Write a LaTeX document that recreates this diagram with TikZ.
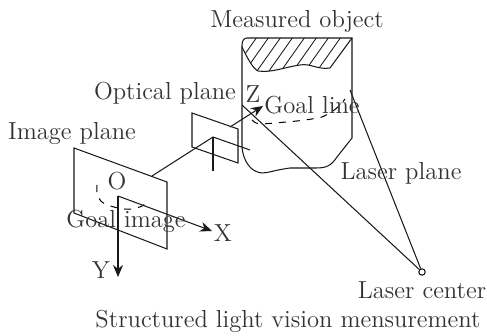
\documentclass[tikz,border=0pt]{standalone}
\usetikzlibrary{arrows.meta}
\begin{document}
\begin{tikzpicture}[x=0.5pt,y=-0.5pt,
  ln/.style={line width=0.52pt,black!90},
  thin ln/.style={line width=0.42pt,black!90},
  dsh/.style={line width=0.5pt,dash pattern=on 3.5pt off 3.5pt},
  arr/.style={ln,-{Stealth[length=6pt,width=5pt]}},
  lab/.style={inner sep=0pt,font=\fontsize{12.3}{14}\selectfont,text=black!80}]
\useasboundingbox (0,0) rectangle (487,336);
% measured object
\draw[ln] (247,38) -- (352,38) -- (352,138) -- (337,157)
  .. controls (331,166) and (326,168) .. (316,168)
  -- (290,168) .. controls (275,170) and (268,173) .. (262,173)
  .. controls (250,172) and (243,160) .. (242,147)
  -- (242,45) .. controls (242,41) and (244,38) .. (247,38) -- cycle;
% cut edge
\begin{scope}
\clip (247,38) -- (352,38) -- (330,68)
  .. controls (318,70) and (310,63) .. (300,65)
  .. controls (285,67) and (272,73) .. (258,71)
  .. controls (252,68) and (246,55) .. (242,47)
  .. controls (242,41) and (244,38) .. (247,38) -- cycle;
\foreach \s in {262,274,...,394}
  \draw[thin ln] (\s,30) -- (\s-46,95);
\end{scope}
\draw[ln] (352,38) -- (330,68)
  .. controls (318,70) and (310,63) .. (300,65)
  .. controls (285,67) and (272,73) .. (258,71)
  .. controls (252,68) and (246,55) .. (242,47);
% laser
\node[circle,draw,line width=0.5pt,minimum size=3.2pt,inner sep=0pt] (lc) at (422,272) {};
\coordinate (la) at (350,90);
\coordinate (lb) at (242,105);
\draw[ln] (lc) -- (la);
\draw[ln] (lc) -- (lb);
% goal line
\draw[dsh] (252,120) .. controls (256,124) and (259,124) .. (263,124)
  .. controls (285,122) and (305,121) .. (322,117)
  .. controls (332,113) and (340,106) .. (345,99);
% image plane
\coordinate (i1) at (74,148); \coordinate (i2) at (167,182);
\coordinate (i3) at (167,249); \coordinate (i4) at (74,213);
\draw[ln] (i1) -- (i2) -- (i3) -- (i4) -- cycle;
% goal image
\draw[dsh] (97,185) .. controls (96,195) and (98,200) .. (105,204)
  .. controls (115,208) and (128,211) .. (136,208)
  .. controls (141,207) and (145,205) .. (148,201);
% axes
\coordinate (o) at (118,196);
\coordinate (xe) at (212,231);
\coordinate (ye) at (118,277);
\draw[arr] (o) -- (xe);
\draw[arr] (o) -- (ye);
% optical plane
\coordinate (p1) at (192,113); \coordinate (p2) at (238,129);
\coordinate (p3) at (238,163); \coordinate (p4) at (192,147);
\draw[ln] (p1) -- (p2) -- (p3) -- (p4) -- cycle;
\coordinate (c) at (213,137);
\coordinate (ia) at (152,176);
\coordinate (ce) at (250,150);
\coordinate (cv) at (213,171);
\coordinate (za) at (230,127);
\coordinate (ze) at (263,106);
\draw[ln] (ia) -- (c) -- (ce);
\draw[ln] (c) -- (cv);
\draw[arr] (za) -- (ze);
% labels
\node[lab] (t1) at (297,21) {Measured object};
\node[lab] (t2) at (165,93) {Optical plane};
\node[lab] (t3) at (253,94) {Z};
\node[lab] (t4) at (312,105) {Goal line};
\node[lab] (t5) at (72,133) {Image plane};
\node[lab] (t6) at (117,181) {O};
\node[lab] (t7) at (126,221) {Goal image};
\node[lab] (t8) at (223,233) {X};
\node[lab] (t9) at (101,270) {Y};
\node[lab] (t10) at (401,173) {Laser plane};
\node[lab] (t11) at (422,290) {Laser center};
\node[lab] (t12) at (288,321) {Structured light vision mensurement};
\end{tikzpicture}
\end{document}
